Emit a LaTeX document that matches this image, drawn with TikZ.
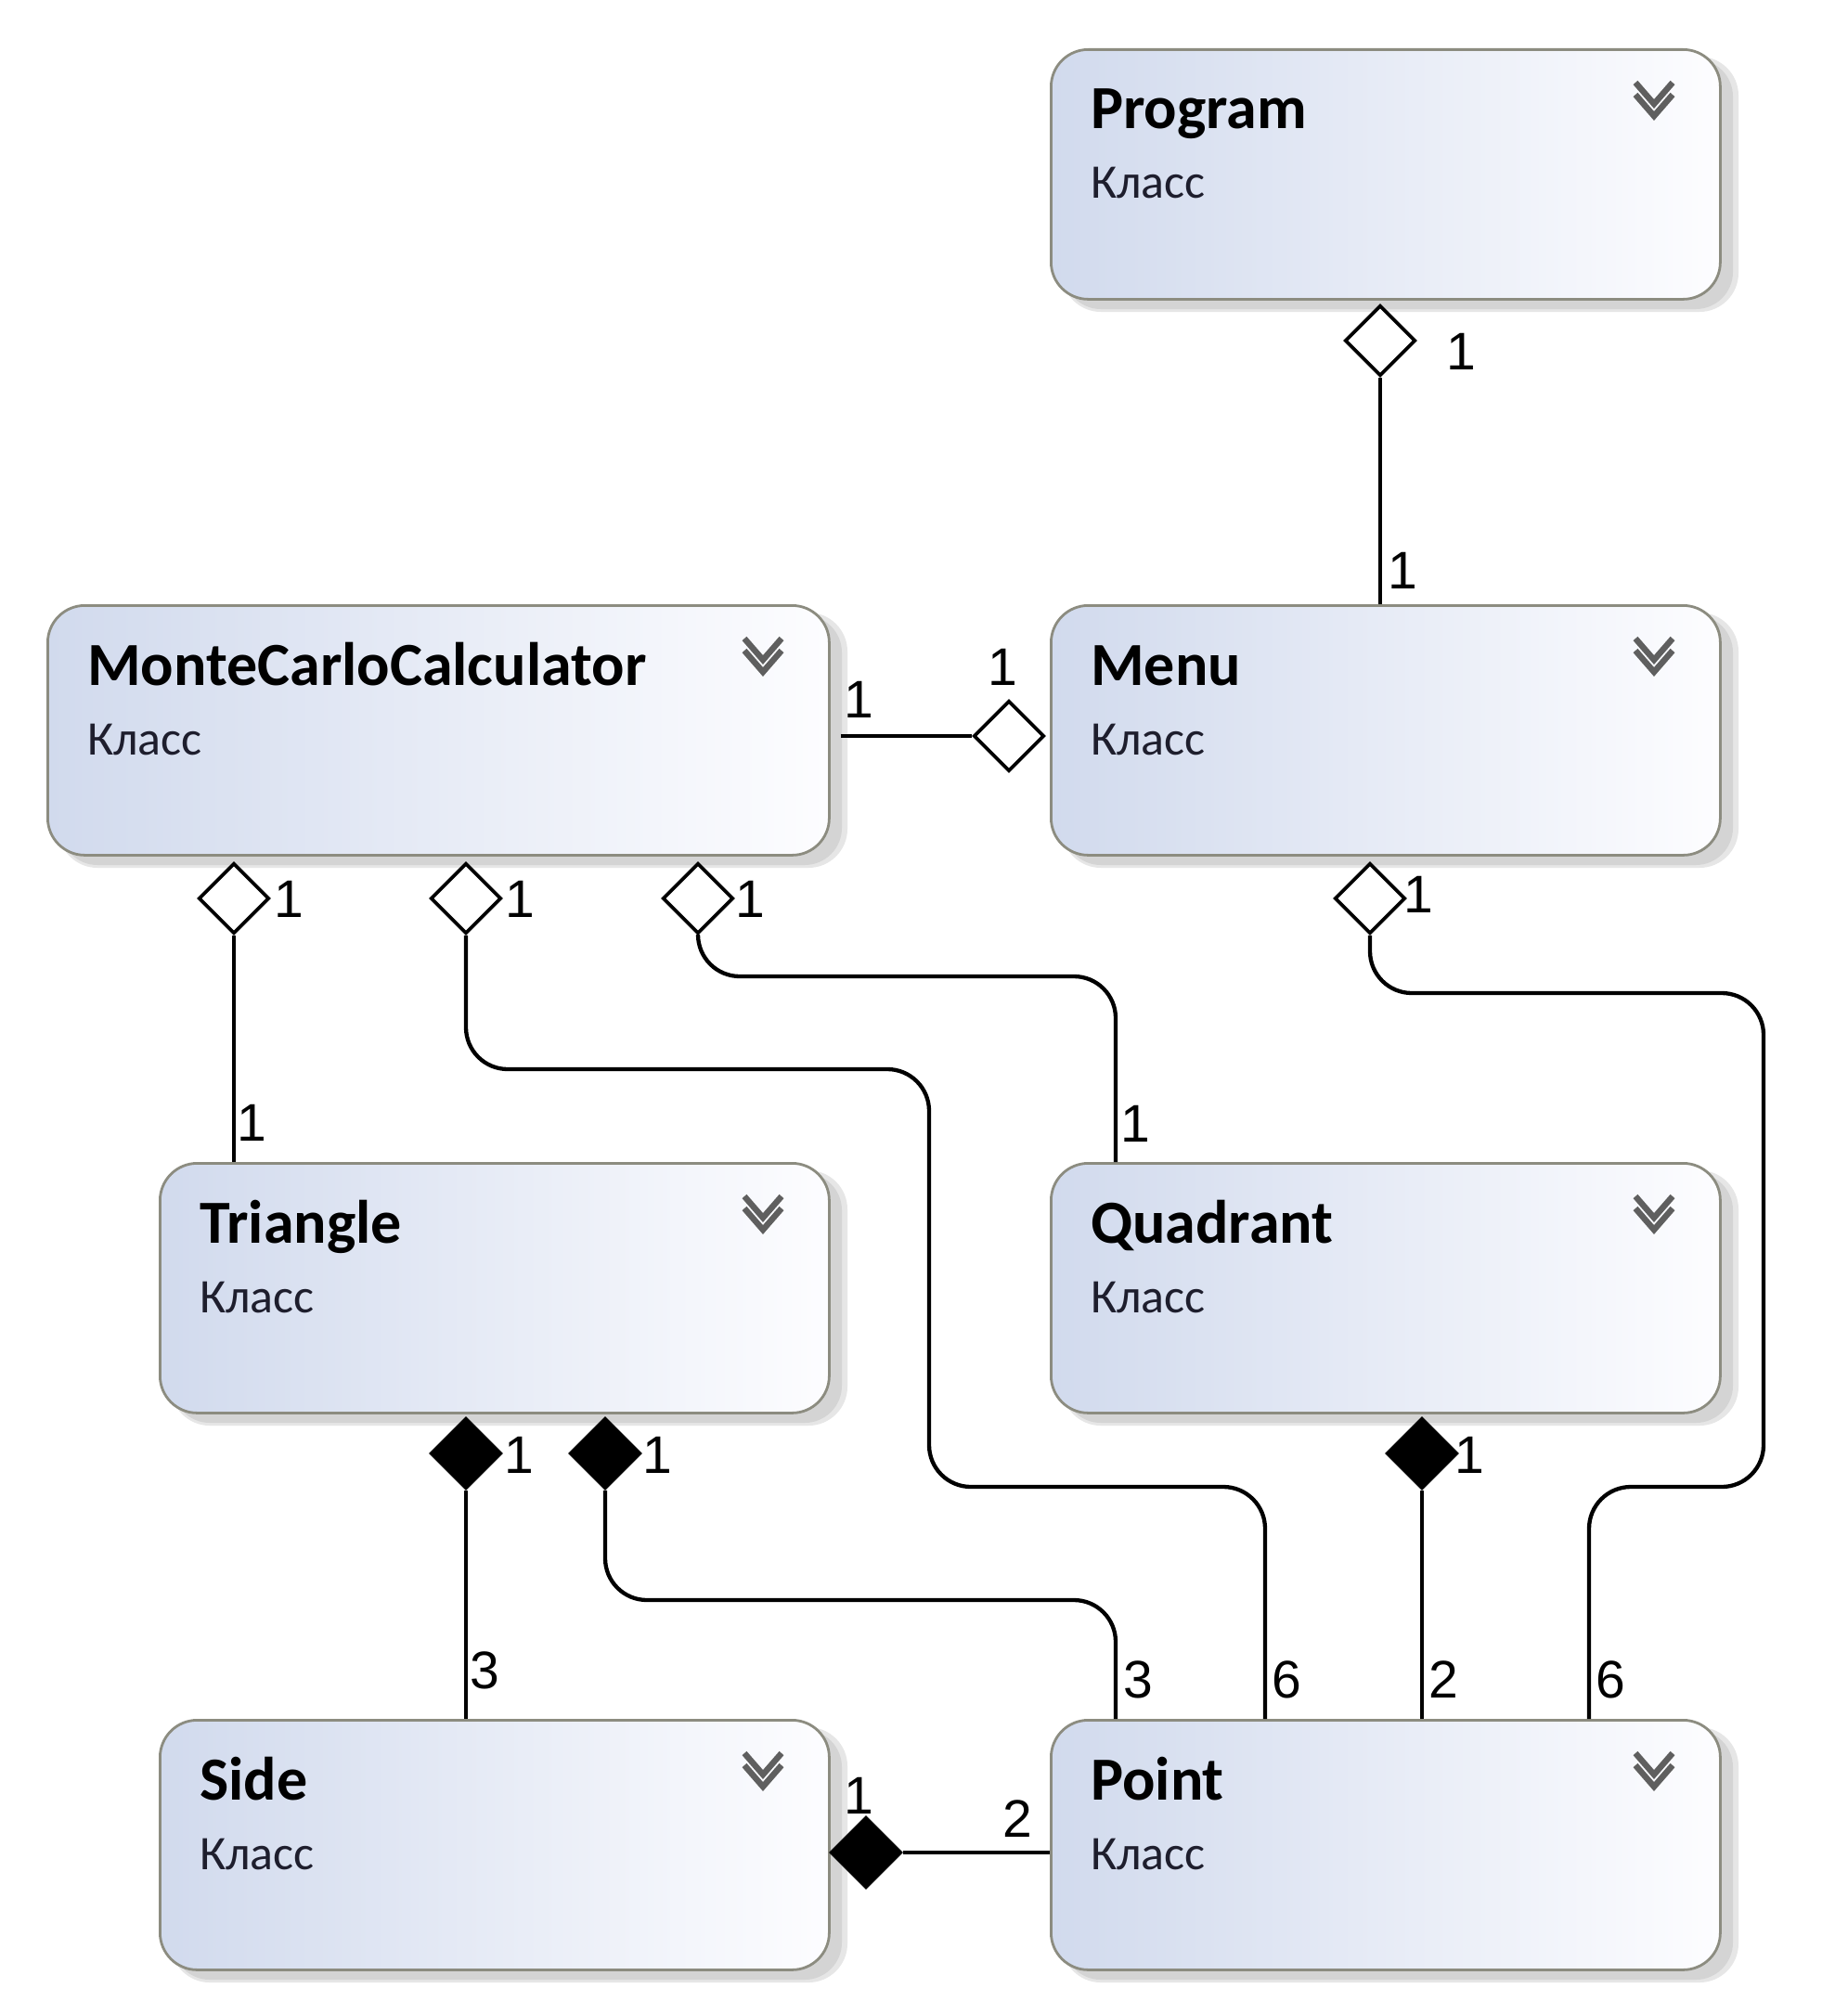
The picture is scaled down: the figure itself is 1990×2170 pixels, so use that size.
\documentclass[tikz,border=0pt]{standalone}
\usepackage{fontspec}
\setmainfont{Carlito}
\newfontfamily\multfont{Liberation Sans}
\usetikzlibrary{shapes.geometric,calc}
\definecolor{boxleft}{RGB}{209,218,237}
\definecolor{boxright}{RGB}{253,253,255}
\definecolor{boxborder}{RGB}{140,140,128}
\definecolor{shadowgray}{RGB}{212,212,212}
\definecolor{shadowlight}{RGB}{230,230,230}
\definecolor{chevcol}{RGB}{95,95,95}
\definecolor{subcol}{RGB}{30,30,45}

\tikzset{
  classbox/.style={rectangle, rounded corners=40pt, minimum height=269pt, inner sep=0pt,
    draw=boxborder, line width=2.8pt, left color=boxleft, right color=boxright, anchor=north west},
  titletext/.style={anchor=base west, inner sep=0pt, font=\fontsize{66}{70}\selectfont\bfseries},
  subtext/.style={anchor=base west, inner sep=0pt, text=subcol, font=\fontsize{52}{56}\selectfont},
  chevron/.style={draw=chevcol, line width=6.5pt},
  conn/.style={line width=4.3pt, rounded corners=45pt},
  odia/.style={diamond, draw, line width=3.6pt, fill=white, minimum width=76pt, minimum height=76pt, inner sep=0pt},
  fdia/.style={diamond, draw, line width=3.6pt, fill=black, minimum width=76pt, minimum height=76pt, inner sep=0pt},
  mult/.style={inner sep=0pt, font=\multfont\fontsize{57}{60}\selectfont}
}

\newcommand{\umlclass}[5]{%
  \fill[shadowlight, rounded corners=42pt] (#2+13,#3+9) rectangle ++(#4+8,275);
  \fill[shadowgray, rounded corners=40pt] (#2+15,#3+12) rectangle ++(#4,269);
  \node[classbox, minimum width=#4pt] (#1) at (#2,#3) {};
  \node[titletext] (#1-title) at (#2+44,#3+87) {#5};
  \node[subtext] (#1-sub) at (#2+44,#3+162) {Класс};
  \draw[chevron] (#2+#4-90,#3+37) -- ++(20,23) -- ++(20,-23);
  \draw[chevron] (#2+#4-90,#3+50) -- ++(20,23) -- ++(20,-23);
}

\begin{document}
\begin{tikzpicture}[x=1pt,y=-1pt]
\useasboundingbox[fill=white] (0,0) rectangle (1990,2170);

\umlclass{prog}{1131}{52}{721}{Program}
\umlclass{mcc}{50}{651}{842}{MonteCarloCalculator}
\umlclass{menu}{1131}{651}{721}{Menu}
\umlclass{tri}{171}{1252}{721}{Triangle}
\umlclass{quad}{1131}{1252}{721}{Quadrant}
\umlclass{side}{171}{1852}{721}{Side}
\umlclass{point}{1131}{1852}{721}{Point}

% diamonds
\node[odia] (dprog) at (1487,367) {};
\node[odia] (dmm) at (1087,793) {};
\node[odia] (dmc1) at (252,968) {};
\node[odia] (dmc2) at (502,968) {};
\node[odia] (dmc3) at (752,968) {};
\node[odia] (dmenu) at (1476,968) {};
\node[fdia] (dtri1) at (502,1566) {};
\node[fdia] (dtri2) at (652,1566) {};
\node[fdia] (dquad) at (1532,1566) {};
\node[fdia] (dsp) at (933,1996) {};

% bend coordinates
\coordinate (b2a) at (502,1152);
\coordinate (b2b) at (1001,1152);
\coordinate (b2c) at (1001,1602);
\coordinate (b2d) at (1363,1602);
\coordinate (b3a) at (752,1052);
\coordinate (b3b) at (1202,1052);
\coordinate (b6a) at (1476,1070);
\coordinate (b6b) at (1900,1070);
\coordinate (b6c) at (1900,1602);
\coordinate (b6d) at (1712,1602);
\coordinate (b8a) at (652,1724);
\coordinate (b8b) at (1202,1724);

% connectors
\draw[conn] (dprog.south) -- (dprog.south |- menu.north);
\draw[conn] ($(dmm.west -| mcc.east)+(11,0)$) -- (dmm.west);
\draw[conn] (dmc1.south) -- (dmc1.south |- tri.north);
\draw[conn] (dmc2.south) -- (b2a) -- (b2b) -- (b2c) -- (b2d) -- (b2d |- point.north);
\draw[conn] (dmc3.south) -- (b3a) -- (b3b) -- (b3b |- quad.north);
\draw[conn] (dmenu.south) -- (b6a) -- (b6b) -- (b6c) -- (b6d) -- (b6d |- point.north);
\draw[conn] (dtri1.south) -- (dtri1.south |- side.north);
\draw[conn] (dtri2.south) -- (b8a) -- (b8b) -- (b8b |- point.north);
\draw[conn] (dquad.south) -- (dquad.south |- point.north);
\draw[conn] (dsp.east) -- (dsp.east -| point.west);

% multiplicities
\node[mult] at (1574,379) {1};
\node[mult] at (1511,615) {1};
\node[mult] at (925,754) {1};
\node[mult] at (1080,719) {1};
\node[mult] at (311,969) {1};
\node[mult] at (560,969) {1};
\node[mult] at (808,969) {1};
\node[mult] at (1528,964) {1};
\node[mult] at (271,1210) {1};
\node[mult] at (1223,1211) {1};
\node[mult] at (559,1568) {1};
\node[mult] at (708,1568) {1};
\node[mult] at (1583,1568) {1};
\node[mult] at (522,1800) {3};
\node[mult] at (1226,1810) {3};
\node[mult] at (1386,1810) {6};
\node[mult] at (1555,1810) {2};
\node[mult] at (1735,1810) {6};
\node[mult] at (925,1935) {1};
\node[mult] at (1096,1960) {2};
\end{tikzpicture}
\end{document}
